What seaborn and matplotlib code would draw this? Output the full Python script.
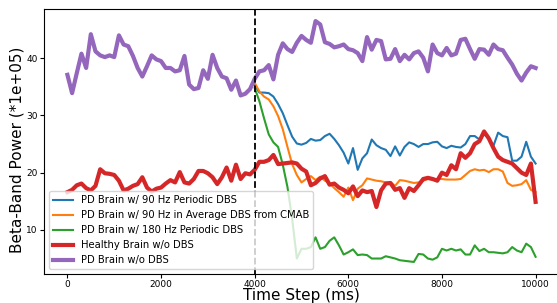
import numpy as np
import pandas as pd
import matplotlib
matplotlib.use("Agg")
import matplotlib.pyplot as plt
import seaborn as sns

# time axis (ms)
t_all = list(range(0, 10001, 100))
t_dbs = list(range(4000, 10001, 100))

pd_no_dbs = [37.1, 33.9, 37.4, 40.8, 38.3, 44.2, 41.2, 40.5, 40.2, 40.5,
             40.2, 44.0, 42.4, 42.1, 40.4, 38.3, 36.8, 38.6, 40.5, 39.8,
             39.5, 38.3, 38.3, 37.7, 37.9, 40.4, 35.4, 34.6, 34.8, 37.9,
             36.4, 40.6, 38.3, 36.8, 36.5, 34.5, 36.1, 33.5, 33.8, 34.6,
             36.4,
             37.7, 37.9, 38.8, 36.3, 40.6, 42.6, 41.6, 41.1, 42.7, 43.9,
             43.2, 42.7, 46.5, 45.9, 42.8, 42.5, 41.9, 42.1, 42.4, 41.6,
             41.4, 40.9, 39.5, 43.7, 41.5, 43.2, 43.0, 39.8, 39.9, 41.6,
             39.5, 40.6, 39.8, 40.9, 41.2, 40.1, 37.7, 42.4, 40.9, 40.5,
             41.8, 40.5, 40.8, 43.2, 43.4, 41.6, 39.9, 41.6, 41.5, 40.6,
             42.4, 41.6, 41.4, 40.1, 38.9, 37.3, 36.1, 37.5, 38.6, 38.3]

healthy = [16.6, 17.0, 17.8, 18.1, 17.3, 16.9, 17.7, 20.6, 19.9, 19.8,
           19.6, 18.6, 16.9, 17.2, 17.7, 18.0, 19.2, 17.4, 16.7, 17.2,
           17.4, 18.1, 18.7, 18.3, 20.1, 18.3, 18.1, 18.9, 20.3, 20.3,
           19.9, 19.2, 18.0, 19.2, 20.9, 18.6, 21.4, 18.9, 19.9, 19.7,
           20.5,
           21.9, 21.9, 22.2, 23.1, 21.5, 21.6, 21.7, 21.8, 21.6, 20.7,
           20.2, 17.8, 18.2, 19.0, 19.4, 17.9, 18.1, 17.4, 17.0, 16.4,
           17.6, 15.9, 16.9, 16.6, 16.8, 14.0, 16.9, 18.1, 18.2, 17.0,
           17.3, 15.6, 17.3, 16.8, 17.8, 18.9, 19.1, 18.9, 18.6, 20.0,
           19.6, 21.3, 20.6, 23.4, 22.6, 23.4, 25.0, 25.5, 27.2, 26.0,
           24.3, 22.8, 22.2, 21.9, 21.6, 20.8, 20.0, 19.6, 21.6, 14.9]

dbs_90 = [35.3, 34.0, 34.0, 33.9, 33.3, 32.0, 30.4, 28.3, 26.3, 25.1,
          24.9, 25.2, 25.9, 25.6, 25.7, 26.4, 26.8, 25.9, 24.8, 23.5,
          21.6, 24.3, 20.5, 22.5, 23.4, 25.8, 24.8, 24.3, 24.0, 22.9,
          24.6, 23.0, 24.5, 25.3, 25.0, 24.5, 25.0, 25.0, 25.3, 25.4,
          24.6, 24.3, 24.7, 24.5, 24.4, 25.0, 26.4, 26.4, 25.8, 26.7,
          26.0, 24.7, 27.0, 26.4, 26.2, 22.1, 22.1, 22.8, 25.4, 22.8,
          21.6]

dbs_cmab = [35.7, 34.2, 33.3, 32.8, 31.6, 29.9, 27.6, 24.5, 21.5, 19.6,
            18.3, 18.9, 19.4, 18.7, 19.3, 18.6, 18.2, 17.3, 16.6, 15.8,
            17.4, 15.2, 17.2, 17.8, 19.0, 18.8, 18.6, 18.5, 18.3, 18.3,
            17.7, 18.7, 18.6, 18.4, 18.2, 18.3, 18.6, 18.9, 18.8, 18.9,
            18.9, 18.8, 18.8, 18.8, 18.9, 19.6, 20.3, 20.6, 20.4, 20.5,
            20.1, 20.6, 20.6, 20.2, 18.2, 17.7, 17.8, 18.0, 18.7, 17.0,
            16.6]

dbs_180 = [34.8, 32.5, 29.5, 26.7, 25.3, 24.5, 21.4, 17.5, 12.0, 5.0,
           6.7, 6.7, 7.0, 8.7, 6.7, 7.0, 8.1, 8.7, 7.3, 5.7,
           6.1, 6.6, 5.6, 5.7, 5.6, 5.0, 5.0, 5.0, 5.4, 5.2,
           5.0, 4.7, 4.6, 4.5, 4.4, 5.8, 5.7, 5.0, 4.8, 5.2,
           6.7, 6.4, 6.7, 6.4, 6.6, 5.7, 5.7, 7.3, 6.3, 6.7,
           6.1, 6.1, 6.0, 5.9, 6.1, 7.0, 6.4, 6.1, 7.6, 7.0,
           5.3]

labels = ["PD Brain w/ 90 Hz Periodic DBS",
          "PD Brain w/ 90 Hz in Average DBS from CMAB",
          "PD Brain w/ 180 Hz Periodic DBS",
          "Healthy Brain w/o DBS",
          "PD Brain w/o DBS"]
colors = ["#1f77b4", "#ff7f0e", "#2ca02c", "#d62728", "#9467bd"]
dbs_start = 4000

plt.rcParams['font.family'] = ['DejaVu Sans']
fig = plt.figure(figsize=(5.57, 3.03), dpi=100)
W, H = 557, 303
ax = fig.add_axes([44 / W, (H - 274) / H, (559 - 44) / W, (274 - 9) / H])

series = [(t_dbs, dbs_90, 1.5), (t_dbs, dbs_cmab, 1.5), (t_dbs, dbs_180, 1.5),
          (t_all, healthy, 3.0), (t_all, pd_no_dbs, 3.0)]
for (tx, vals, lw), lab, col in zip(series, labels, colors):
    df = pd.DataFrame({"t": tx, "v": vals})
    sns.lineplot(data=df, x="t", y="v", ax=ax, color=col, linewidth=lw, label=lab)

ax.axvline(dbs_start, color="black", linestyle="--", linewidth=1.3)

ax.set_xticks([0, 2000, 4000, 6000, 8000, 10000])
ax.set_yticks([10, 20, 30, 40])
ax.tick_params(labelsize=6.5, length=3, width=0.8, pad=1.5)
ax.set_xlabel("Time Step (ms)", fontsize=11, labelpad=-1)
ax.set_ylabel("Beta-Band Power (*1e+05)", fontsize=11)
ax.yaxis.set_label_coords(-0.037, 0.47)
ax.legend(loc="lower left", fontsize=7.2, framealpha=0.8)

fig.savefig("out.png", dpi=100)
